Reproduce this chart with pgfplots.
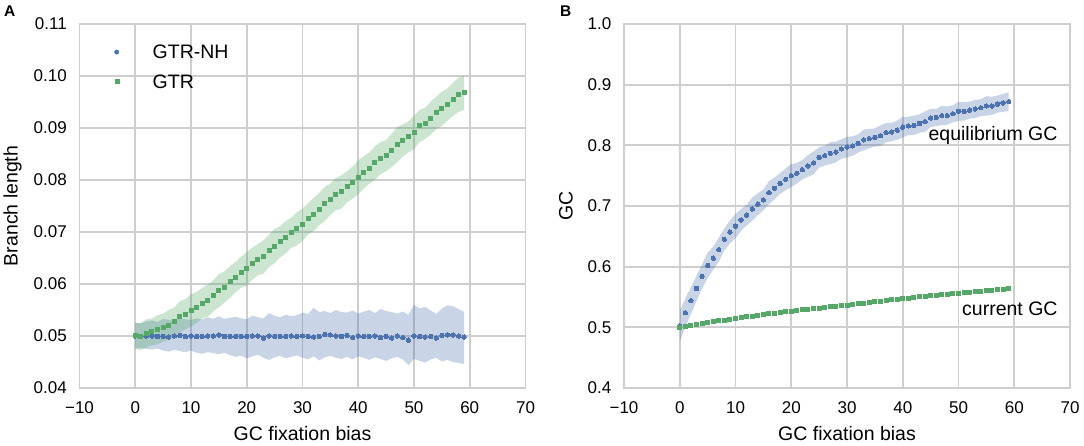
\documentclass[border=0pt]{standalone}
\usepackage{pgfplots}
\usepackage{pgfplotstable}
\pgfplotsset{compat=1.18}
\usepgfplotslibrary{fillbetween}
\usepackage{fontspec}
\setmainfont{Liberation Sans}
\definecolor{sbblue}{HTML}{4C72B0}
\definecolor{sbgreen}{HTML}{55A868}
\definecolor{gridc}{RGB}{206,206,206}

% x  y  lo  hi
\pgfplotstableread{
x y lo hi
0 0.0500 0.0476 0.0525
1 0.0499 0.0477 0.0524
2 0.0500 0.0475 0.0528
3 0.0500 0.0474 0.0530
4 0.0499 0.0476 0.0527
5 0.0499 0.0472 0.0533
6 0.0498 0.0470 0.0531
7 0.0500 0.0473 0.0529
8 0.0501 0.0471 0.0534
9 0.0499 0.0469 0.0532
10 0.0500 0.0472 0.0531
11 0.0499 0.0468 0.0534
12 0.0499 0.0466 0.0532
13 0.0500 0.0469 0.0536
14 0.0500 0.0467 0.0533
15 0.0502 0.0465 0.0538
16 0.0499 0.0468 0.0533
17 0.0499 0.0463 0.0535
18 0.0499 0.0460 0.0537
19 0.0499 0.0462 0.0534
20 0.0499 0.0457 0.0532
21 0.0500 0.0461 0.0539
22 0.0500 0.0464 0.0536
23 0.0496 0.0458 0.0534
24 0.0500 0.0454 0.0544
25 0.0499 0.0459 0.0539
26 0.0499 0.0462 0.0536
27 0.0499 0.0457 0.0541
28 0.0500 0.0460 0.0538
29 0.0499 0.0463 0.0540
30 0.0500 0.0458 0.0545
31 0.0499 0.0455 0.0542
32 0.0498 0.0461 0.0554
33 0.0499 0.0453 0.0546
34 0.0503 0.0459 0.0548
35 0.0502 0.0462 0.0544
36 0.0500 0.0458 0.0550
37 0.0499 0.0456 0.0546
38 0.0501 0.0460 0.0545
39 0.0497 0.0455 0.0549
40 0.0500 0.0461 0.0543
41 0.0499 0.0458 0.0547
42 0.0499 0.0454 0.0550
43 0.0500 0.0459 0.0544
44 0.0497 0.0456 0.0552
45 0.0499 0.0452 0.0548
46 0.0496 0.0457 0.0546
47 0.0500 0.0460 0.0543
48 0.0497 0.0455 0.0547
49 0.0492 0.0444 0.0541
50 0.0500 0.0456 0.0560
51 0.0499 0.0452 0.0553
52 0.0498 0.0449 0.0556
53 0.0499 0.0455 0.0549
54 0.0496 0.0458 0.0542
55 0.0501 0.0451 0.0553
56 0.0502 0.0454 0.0559
57 0.0502 0.0450 0.0557
58 0.0500 0.0448 0.0552
59 0.0498 0.0446 0.0546
}\gtrnh

\pgfplotstableread{
x y lo hi
0 0.0500 0.0475 0.0525
1 0.0499 0.0473 0.0525
2 0.0505 0.0478 0.0532
3 0.0508 0.0482 0.0534
4 0.0512 0.0484 0.0540
5 0.0516 0.0489 0.0543
6 0.0521 0.0492 0.0550
7 0.0527 0.0499 0.0555
8 0.0537 0.0507 0.0567
9 0.0542 0.0513 0.0571
10 0.0549 0.0518 0.0580
11 0.0555 0.0525 0.0585
12 0.0563 0.0534 0.0592
13 0.0568 0.0537 0.0599
14 0.0577 0.0547 0.0607
15 0.0587 0.0555 0.0619
16 0.0594 0.0564 0.0624
17 0.0604 0.0573 0.0635
18 0.0613 0.0584 0.0642
19 0.0623 0.0593 0.0653
20 0.0629 0.0597 0.0661
21 0.0639 0.0608 0.0670
22 0.0647 0.0617 0.0677
23 0.0652 0.0620 0.0684
24 0.0664 0.0633 0.0695
25 0.0673 0.0640 0.0706
26 0.0681 0.0651 0.0711
27 0.0690 0.0659 0.0721
28 0.0699 0.0670 0.0728
29 0.0706 0.0674 0.0738
30 0.0714 0.0683 0.0745
31 0.0725 0.0695 0.0755
32 0.0734 0.0702 0.0766
33 0.0744 0.0713 0.0775
34 0.0754 0.0721 0.0787
35 0.0763 0.0733 0.0793
36 0.0773 0.0742 0.0804
37 0.0777 0.0745 0.0809
38 0.0787 0.0757 0.0817
39 0.0795 0.0764 0.0826
40 0.0805 0.0772 0.0838
41 0.0815 0.0784 0.0846
42 0.0823 0.0793 0.0853
43 0.0833 0.0801 0.0865
44 0.0842 0.0811 0.0873
45 0.0847 0.0817 0.0877
46 0.0857 0.0825 0.0889
47 0.0868 0.0834 0.0902
48 0.0876 0.0845 0.0907
49 0.0883 0.0853 0.0913
50 0.0891 0.0859 0.0923
51 0.0904 0.0873 0.0935
52 0.0909 0.0879 0.0939
53 0.0919 0.0887 0.0951
54 0.0929 0.0898 0.0960
55 0.0937 0.0904 0.0970
56 0.0945 0.0914 0.0976
57 0.0955 0.0923 0.0987
58 0.0964 0.0931 0.0997
59 0.0968 0.0935 0.1001
}\gtr

\pgfplotstableread{
x y lo hi
0 0.502 0.477 0.527
1 0.524 0.500 0.548
2 0.544 0.522 0.566
3 0.564 0.543 0.585
4 0.584 0.564 0.604
5 0.602 0.581 0.623
6 0.614 0.595 0.633
7 0.628 0.608 0.648
8 0.645 0.627 0.663
9 0.657 0.638 0.676
10 0.667 0.647 0.687
11 0.677 0.659 0.695
12 0.685 0.668 0.702
13 0.695 0.676 0.714
14 0.703 0.685 0.721
15 0.710 0.693 0.727
16 0.722 0.703 0.741
17 0.729 0.711 0.747
18 0.737 0.720 0.754
19 0.744 0.726 0.762
20 0.750 0.731 0.769
21 0.754 0.737 0.771
22 0.760 0.744 0.776
23 0.766 0.748 0.784
24 0.771 0.752 0.790
25 0.780 0.763 0.797
26 0.783 0.767 0.799
27 0.787 0.769 0.805
28 0.789 0.772 0.806
29 0.794 0.778 0.810
30 0.797 0.780 0.814
31 0.799 0.783 0.815
32 0.803 0.788 0.818
33 0.809 0.792 0.826
34 0.811 0.795 0.827
35 0.813 0.798 0.828
36 0.816 0.799 0.833
37 0.821 0.805 0.837
38 0.822 0.807 0.837
39 0.825 0.809 0.841
40 0.830 0.813 0.847
41 0.832 0.817 0.847
42 0.833 0.817 0.849
43 0.836 0.821 0.851
44 0.839 0.822 0.856
45 0.845 0.830 0.860
46 0.846 0.832 0.860
47 0.849 0.833 0.865
48 0.849 0.834 0.864
49 0.852 0.838 0.866
50 0.856 0.840 0.872
51 0.856 0.841 0.871
52 0.858 0.844 0.872
53 0.860 0.845 0.875
54 0.862 0.848 0.876
55 0.865 0.849 0.881
56 0.865 0.850 0.880
57 0.868 0.854 0.882
58 0.870 0.855 0.885
59 0.872 0.857 0.887
}\eqgc

\pgfplotstableread{
x y
0 0.5000
1 0.5017
2 0.5033
3 0.5048
4 0.5063
5 0.5078
6 0.5092
7 0.5106
8 0.5120
9 0.5134
10 0.5147
11 0.5160
12 0.5172
13 0.5184
14 0.5196
15 0.5208
16 0.5220
17 0.5232
18 0.5243
19 0.5255
20 0.5266
21 0.5277
22 0.5287
23 0.5297
24 0.5307
25 0.5317
26 0.5327
27 0.5337
28 0.5347
29 0.5357
30 0.5367
31 0.5378
32 0.5389
33 0.5399
34 0.5410
35 0.5421
36 0.5431
37 0.5442
38 0.5452
39 0.5463
40 0.5473
41 0.5482
42 0.5491
43 0.5500
44 0.5509
45 0.5518
46 0.5527
47 0.5536
48 0.5545
49 0.5554
50 0.5563
51 0.5571
52 0.5580
53 0.5588
54 0.5597
55 0.5605
56 0.5613
57 0.5622
58 0.5630
59 0.5638
}\curgc

\pgfplotsset{
  sbstyle/.style={
    scale only axis,
    width=446pt, height=364pt,
    anchor=south west,
    xmin=-10, xmax=70,
    xtick={-10,0,10,20,30,40,50,60,70},
    xticklabels={−10,0,10,20,30,40,50,60,70},
    major tick length=0pt,
    grid=major,
    grid style={draw=gridc, line width=1.7pt},
    axis line style={draw=gridc, line width=1.7pt},
    tick label style={font=\fontsize{17}{19}\selectfont, text=black},
    xticklabel style={inner sep=0pt, anchor=north, yshift=-13.5pt},
    yticklabel style={inner sep=0pt, anchor=east, xshift=-12.5pt},
    label style={font=\fontsize{19.5}{22}\selectfont},
    xlabel style={at={(axis description cs:0.5,-0.1448)}, anchor=base},
  },
  bluemk/.style={only marks, color=sbblue, mark=*, mark size=2.2pt, mark options={line width=0pt, fill=sbblue, draw=sbblue}},
  greenmk/.style={only marks, color=sbgreen, mark=square*, mark size=2.0pt, mark options={line width=0pt, fill=sbgreen, draw=sbgreen}},
}

\begin{document}
\begin{tikzpicture}

\begin{axis}[sbstyle,
  at={(79.5pt,58pt)},
  ymin=0.04, ymax=0.11,
  ytick={0.04,0.05,0.06,0.07,0.08,0.09,0.10,0.11},
  yticklabels={0.04,0.05,0.06,0.07,0.08,0.09,0.10,0.11},
  xlabel={GC fixation bias},
  ylabel={Branch length},
  ylabel style={at={(axis description cs:-0.139,0.5)}, anchor=base},
  legend style={at={(axis description cs:0,1)}, anchor=north west, yshift=-21pt,
    draw=none, fill=none, inner sep=0pt, row sep=14.2pt, column sep=0pt,
    font=\fontsize{19.5}{22}\selectfont,
    nodes={inner sep=0pt, anchor=base west}},
  legend cell align=left,
]
\addplot[draw=none, forget plot, name path=nhhi] table[x=x, y=hi] {\gtrnh};
\addplot[draw=none, forget plot, name path=nhlo] table[x=x, y=lo] {\gtrnh};
\addplot[fill=sbblue, fill opacity=0.3, draw=none, forget plot] fill between[of=nhhi and nhlo];
\addplot[bluemk, legend image code/.code={\path[draw=none,fill=none] (0pt,0pt) rectangle (73pt,13.8pt); \fill[sbblue] (37pt,6.9pt) circle (2.2pt);}] table[x=x, y=y] {\gtrnh};
\addlegendentry{GTR-NH}
\addplot[draw=none, forget plot, name path=ghi] table[x=x, y=hi] {\gtr};
\addplot[draw=none, forget plot, name path=glo] table[x=x, y=lo] {\gtr};
\addplot[fill=sbgreen, fill opacity=0.3, draw=none, forget plot] fill between[of=ghi and glo];
\addplot[greenmk, legend image code/.code={\path[draw=none,fill=none] (0pt,0pt) rectangle (73pt,13.8pt); \fill[sbgreen] (35pt,4.9pt) rectangle (39pt,8.9pt);}] table[x=x, y=y] {\gtr};
\addlegendentry{GTR}
\end{axis}

\begin{axis}[sbstyle,
  at={(624pt,58pt)},
  ymin=0.4, ymax=1.0,
  ytick={0.4,0.5,0.6,0.7,0.8,0.9,1.0},
  yticklabels={0.4,0.5,0.6,0.7,0.8,0.9,1.0},
  xlabel={GC fixation bias},
  ylabel={GC},
  ylabel style={at={(axis description cs:-0.115,0.5)}, anchor=base},
]
\addplot[draw=none, forget plot, name path=ehi] table[x=x, y=hi] {\eqgc};
\addplot[draw=none, forget plot, name path=elo] table[x=x, y=lo] {\eqgc};
\addplot[fill=sbblue, fill opacity=0.3, draw=none, forget plot] fill between[of=ehi and elo];
\addplot[bluemk] table[x=x, y=y] {\eqgc};
\addplot[greenmk] table[x=x, y=y] {\curgc};
\node[anchor=base east, font=\fontsize{19.5}{22}\selectfont, inner sep=0pt] at (axis cs:67.8,0.808) {equilibrium GC};
\node[anchor=base east, font=\fontsize{19.5}{22}\selectfont, inner sep=0pt] at (axis cs:67.8,0.519) {current GC};
\end{axis}

\node[anchor=base west, inner sep=0pt, font=\bfseries\fontsize{15.5}{18}\selectfont] at (4pt,429pt) {A};
\node[anchor=base west, inner sep=0pt, font=\bfseries\fontsize{15.5}{18}\selectfont] at (560pt,429pt) {B};
\pgfresetboundingbox
\path[use as bounding box] (0,0) rectangle (1084pt,446pt);
\end{tikzpicture}
\end{document}
